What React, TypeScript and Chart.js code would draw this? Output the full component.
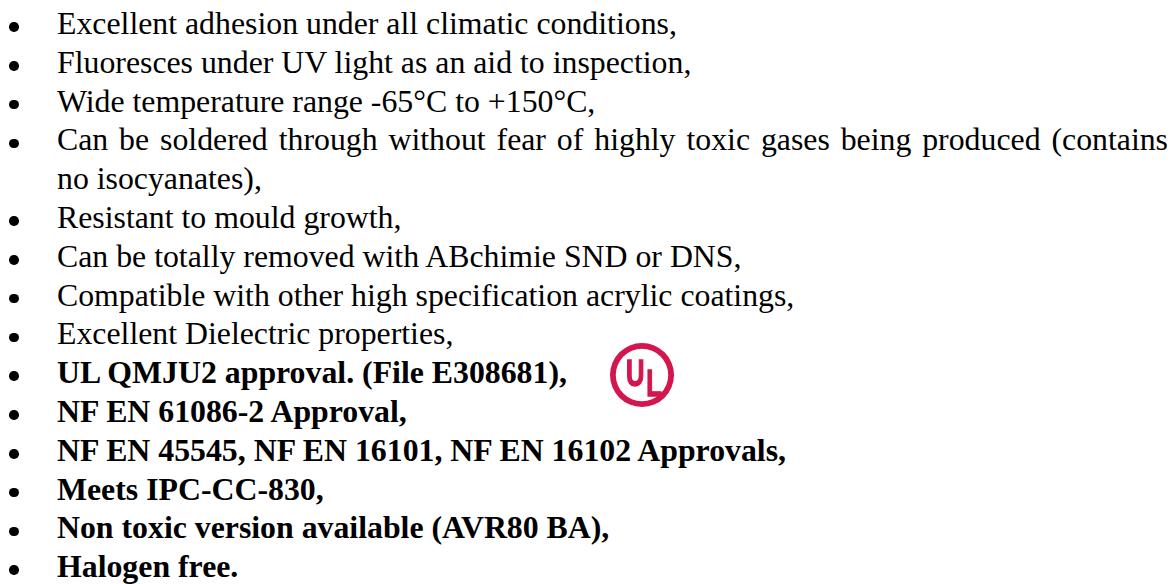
import React, { useEffect, useRef } from "react";
import { Chart, registerables } from "chart.js";

Chart.register(...registerables);

// ---- data ----
const featureItems: string[] = [
  "Excellent adhesion under all climatic conditions,",
  "Fluoresces under UV light as an aid to inspection,",
  "Wide temperature range -65°C to +150°C,",
  "Can be soldered through without fear of highly toxic gases being produced (contains\nno isocyanates),",
  "Resistant to mould growth,",
  "Can be totally removed with ABchimie SND or DNS,",
  "Compatible with other high specification acrylic coatings,",
  "Excellent Dielectric properties,",
];
const approvalItems: string[] = [
  "UL QMJU2 approval. (File E308681),",
  "NF EN 61086-2 Approval,",
  "NF EN 45545, NF EN 16101, NF EN 16102 Approvals,",
  "Meets IPC-CC-830,",
  "Non toxic version available (AVR80 BA),",
  "Halogen free.",
];
const logoLetters: string[] = ["U", "L"];
const logoRing: number[] = [100];

// ---- layout constants ----
const FONT_SIZE = 31.8;
const LINE_H = 38.8;
const TOP = 4.9;
const TEXT_LEFT = 57;
const TEXT_RIGHT = 1168;
const UL_RED = "#d3164d";

function UlLogo() {
  const ref = useRef<HTMLCanvasElement | null>(null);
  useEffect(() => {
    if (!ref.current) return;
    const lettersPlugin = {
      id: "ulLetters",
      afterDraw(chart: any) {
        const ctx = chart.ctx as CanvasRenderingContext2D;
        ctx.save();
        ctx.fillStyle = UL_RED;
        ctx.strokeStyle = UL_RED;
        ctx.lineWidth = 1.4;
        ctx.lineJoin = "miter";
        ctx.textAlign = "center";
        ctx.textBaseline = "alphabetic";
        ctx.font = "bold 36.5px 'Liberation Sans', Arial, sans-serif";
        const sx = 0.7;
        ctx.scale(sx, 1);
        ctx.fillText(logoLetters[0], 28.2 / sx, 46.2);
        ctx.strokeText(logoLetters[0], 28.2 / sx, 46.2);
        ctx.fillText(logoLetters[1], 47 / sx, 56.2);
        ctx.strokeText(logoLetters[1], 47 / sx, 56.2);
        ctx.restore();
      },
    };
    const chart = new Chart(ref.current, {
      type: "doughnut",
      data: {
        labels: ["UL"],
        datasets: [
          {
            data: logoRing,
            backgroundColor: [UL_RED],
            borderWidth: 0,
          },
        ],
      },
      options: {
        animation: false,
        responsive: false,
        cutout: "82%",
        layout: { padding: 3 },
        plugins: { legend: { display: false }, tooltip: { enabled: false } },
        events: [],
      },
      plugins: [lettersPlugin],
    });
    return () => chart.destroy();
  }, []);
  return (
    <canvas
      ref={ref}
      width={70}
      height={70}
      style={{ position: "absolute", left: 607, top: 340, width: 70, height: 70 }}
    />
  );
}

export default function App() {
  type Line = { text: string; bold: boolean; bullet: boolean; justify: boolean };
  const lines: Line[] = [];
  const push = (item: string, bold: boolean) => {
    const parts = item.split("\n");
    parts.forEach((p, i) =>
      lines.push({ text: p, bold, bullet: i === 0, justify: i < parts.length - 1 })
    );
  };
  featureItems.forEach((t) => push(t, false));
  approvalItems.forEach((t) => push(t, true));

  return (
    <div
      style={{
        position: "absolute",
        left: 0,
        top: 0,
        width: 1171,
        height: 584,
        overflow: "hidden",
        background: "#ffffff",
        fontFamily: "'Liberation Serif', 'Times New Roman', serif",
        fontSize: FONT_SIZE,
        color: "#000000",
      }}
    >
      {lines.map((ln, k) => {
        const top = TOP + k * LINE_H;
        const baseline = top + 30.1;
        return (
          <React.Fragment key={k}>
            {ln.bullet && (
              <div
                style={{
                  position: "absolute",
                  left: 9.3,
                  top: baseline - 8 - 4.8,
                  width: 9.6,
                  height: 9.6,
                  borderRadius: "50%",
                  background: "#000",
                }}
              />
            )}
            <div
              style={{
                position: "absolute",
                left: TEXT_LEFT,
                top,
                width: TEXT_RIGHT - TEXT_LEFT,
                height: LINE_H,
                lineHeight: `${LINE_H}px`,
                fontWeight: ln.bold ? "bold" : "normal",
                whiteSpace: "nowrap",
                textAlign: ln.justify ? "justify" : "left",
                textAlignLast: ln.justify ? "justify" : "auto",
              } as React.CSSProperties}
            >
              {ln.text}
            </div>
          </React.Fragment>
        );
      })}
      <UlLogo />
    </div>
  );
}
